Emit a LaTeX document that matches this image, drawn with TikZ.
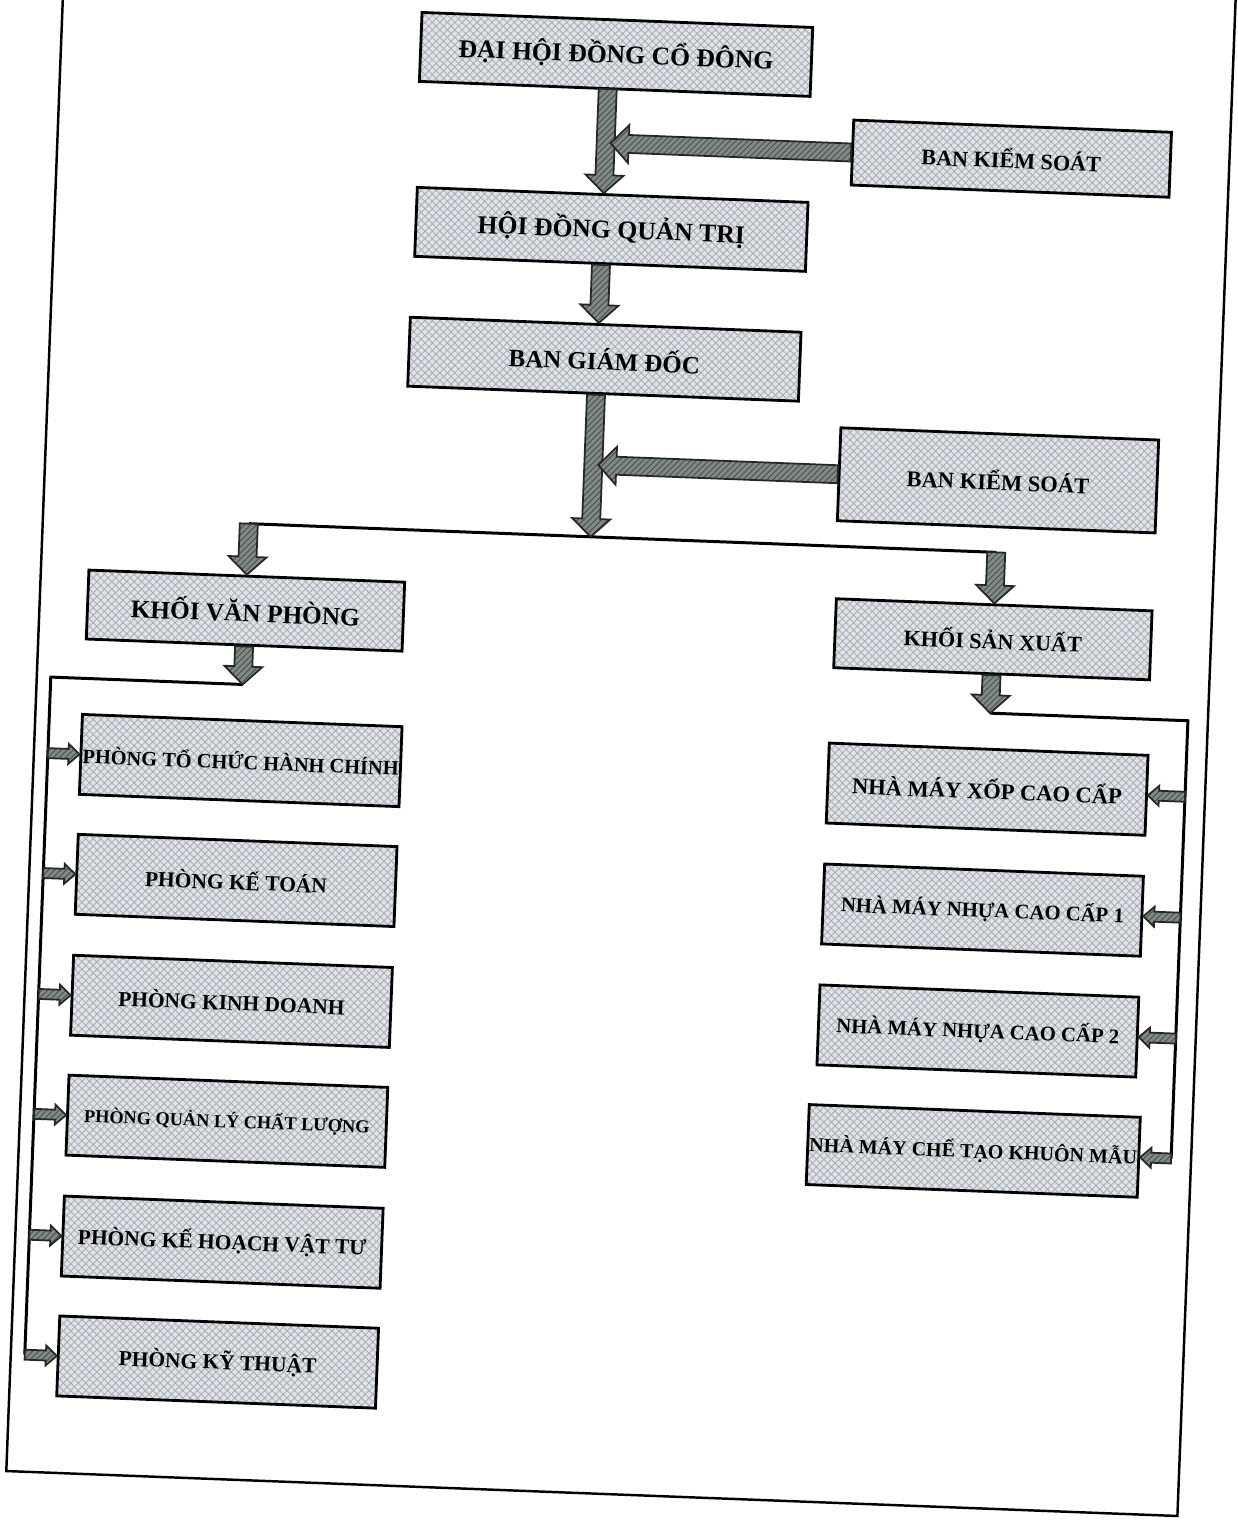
\documentclass[tikz,border=0pt]{standalone}
\usepackage{fontspec}
\setmainfont{Liberation Serif}
\usetikzlibrary{
    calc,
    patterns,
    patterns.meta
}
\definecolor{boxgrey}{RGB}{224,227,231}
\definecolor{hatchgrey}{RGB}{168,174,180}
\definecolor{arrowgrey}{RGB}{128,138,134}
\definecolor{arrowhatch}{RGB}{78,86,83}
\tikzset{
  every path/.style={
    line width=0.85pt
  },
  txt/.style={
    font=\bfseries\fontsize{#1pt}{#1pt}\selectfont
  },
  box/.style={
    draw=black,
    line width=0.8pt,
    preaction={fill=boxgrey},
    preaction={pattern={Lines[angle=45,distance=1.5pt,line width=0.25pt]},pattern color=hatchgrey},
    pattern={Lines[angle=-45,distance=1.5pt,line width=0.25pt]},
    pattern color=hatchgrey,
    transform shape,
    inner sep=0.5pt
  },
  topbox/.style={box, minimum width=39.1mm, minimum height=6.9mm, txt=7.3},
  sidebox/.style={box, minimum width=31.8mm},
  blockbox/.style={box, minimum width=31.6mm, minimum height=6.9mm},
  unitbox/.style={box, minimum width=31.9mm, minimum height=8mm, txt=6.1},
  frameline/.style={draw=black, line width=0.7pt},
  arrowbody/.style={
    draw=black!85,
    line width=0.5pt,
    preaction={fill=arrowgrey},
    pattern={Lines[angle=45,distance=1.2pt,line width=0.3pt]},
    pattern color=arrowhatch
  },
  blockarrow/.style n args={3}{
    arrowbody,
    to path={
      let \p1=(\tikztostart), \p2=(\tikztotarget),
          \n1={atan2(\y2-\y1,\x2-\x1)},
          \n2={veclen(\x2-\x1,\y2-\y1)}
      in ($(\p1)+(\n1+90:#1)$)
      -- ($(\p1)+(\n1:\n2-#3)+(\n1+90:#1)$)
      -- ($(\p1)+(\n1:\n2-#3)+(\n1+90:#2)$)
      -- (\p2)
      -- ($(\p1)+(\n1:\n2-#3)+(\n1-90:#2)$)
      -- ($(\p1)+(\n1:\n2-#3)+(\n1-90:#1)$)
      -- ($(\p1)+(\n1-90:#1)$) -- cycle
    }
  },
  bigarrow/.style={blockarrow={0.9mm}{1.9mm}{1.8mm}},
  sidearrow/.style={blockarrow={0.5mm}{1mm}{1.1mm}}
}

\begin{document}
\begin{tikzpicture}[x=0.1mm,y=-0.1mm]
  \useasboundingbox (0,0) rectangle (1237,1521);
  \begin{scope}[transform canvas={rotate around={-2.2:(618,760)}}]
    % 枠
    \draw[frameline] (34,-80) -- (34,1494) -- (1206,1494) -- (1206,-80);

    % 箱
    \node[topbox] (dhcd) at (589,55) {ĐẠI HỘI ĐỒNG CỔ ĐÔNG};
    \node[sidebox, minimum height=6.5mm, txt=6.3] (bks1) at (988,144) {BAN KIỂM SOÁT};
    \node[topbox] (hdqt) at (591,230) {HỘI ĐỒNG QUẢN TRỊ};
    \node[topbox, txt=7.1] (bgd) at (589,360) {BAN GIÁM ĐỐC};
    \node[sidebox, minimum height=9.3mm, txt=6.4] (bks2) at (987,466) {BAN KIỂM SOÁT};
    \node[blockbox, txt=7.2] (kvp) at (240,625) {KHỐI VĂN PHÒNG};
    \node[blockbox, txt=6.3] (ksx) at (988,625) {KHỐI SẢN XUẤT};

    \node[unitbox, txt=5.8] (p1) at (241,775) {PHÒNG TỔ CHỨC HÀNH CHÍNH};
    \node[unitbox] (p2) at (241,895) {PHÒNG KẾ TOÁN};
    \node[unitbox] (p3) at (241,1016) {PHÒNG KINH DOANH};
    \node[unitbox, txt=5.2] (p4) at (241,1136) {PHÒNG QUẢN LÝ CHẤT LƯỢNG};
    \node[unitbox] (p5) at (241,1257) {PHÒNG KẾ HOẠCH VẬT TƯ};
    \node[unitbox] (p6) at (241,1377) {PHÒNG KỸ THUẬT};

    \node[unitbox, txt=6.4] (n1) at (988,775) {NHÀ MÁY XỐP CAO CẤP};
    \node[unitbox, txt=5.9] (n2) at (988,896) {NHÀ MÁY NHỰA CAO CẤP 1};
    \node[unitbox, txt=5.9] (n3) at (988,1017) {NHÀ MÁY NHỰA CAO CẤP 2};
    \node[unitbox, txt=5.7] (n4) at (988,1137) {NHÀ MÁY CHẾ TẠO KHUÔN MẪU};

    % 点
    \coordinate (spine) at (582,0);
    \coordinate (junc) at (582,538);
    \coordinate (bl) at (kvp.north |- junc);
    \coordinate (br) at (ksx.north |- junc);
    \coordinate (k1) at ($(bks1.west -| spine)+(5,0)$);
    \coordinate (k2) at ($(bks2.west -| spine)+(5,0)$);
    \coordinate (ltip) at ($(kvp.south)+(0,38)$);
    \coordinate (rtip) at ($(ksx.south)+(0,38)$);
    \coordinate (lbus) at (48,0 |- ltip);
    \coordinate (rbus) at (1186,0 |- rtip);

    % 線
    \draw (bl) -- (br);
    \draw (ltip) -- (lbus) -- (lbus |- p6.west);
    \draw (rtip) -- (rbus) -- (rbus |- n4.east);

    % 矢印
    \draw[bigarrow] (dhcd.south -| spine) to (hdqt.north -| spine);
    \draw[bigarrow] (hdqt.south -| spine) to (bgd.north -| spine);
    \draw[bigarrow] (bgd.south -| spine) to (junc);
    \draw[bigarrow] (bks1.west) to (k1);
    \draw[bigarrow] (bks2.west) to (k2);
    \draw[bigarrow] (bl) to (kvp.north);
    \draw[bigarrow] (br) to (ksx.north);
    \draw[bigarrow] (kvp.south) to (ltip);
    \draw[bigarrow] (ksx.south) to (rtip);
    \foreach \i in {1,...,6}
      \draw[sidearrow] (p\i.west -| lbus) to (p\i.west);
    \foreach \i in {1,...,4}
      \draw[sidearrow] (n\i.east -| rbus) to (n\i.east);
  \end{scope}
\end{tikzpicture}
\end{document}
